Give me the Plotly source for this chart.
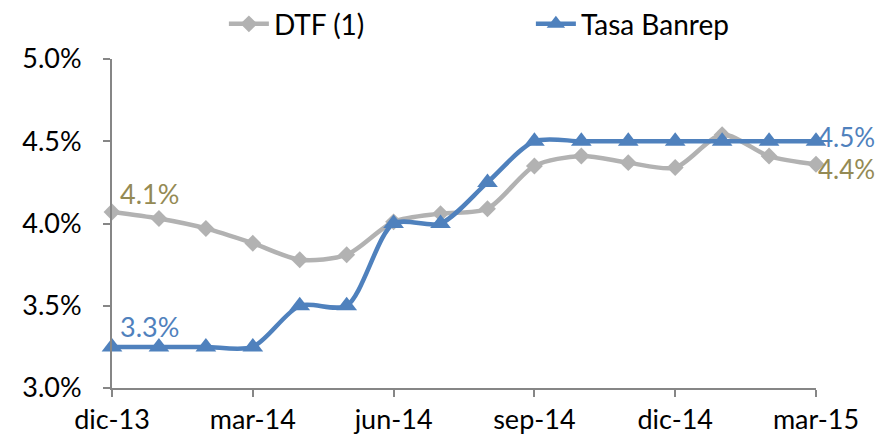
import plotly.graph_objects as go
from decimal import Decimal, ROUND_HALF_UP

months = ["dic-13", "ene-14", "feb-14", "mar-14", "abr-14", "may-14", "jun-14", "jul-14",
          "ago-14", "sep-14", "oct-14", "nov-14", "dic-14", "ene-15", "feb-15", "mar-15"]
dtf = [4.07, 4.03, 3.97, 3.88, 3.78, 3.81, 4.01, 4.06, 4.09, 4.35, 4.41, 4.37, 4.34, 4.54, 4.41, 4.36]
banrep = [3.25, 3.25, 3.25, 3.25, 3.50, 3.50, 4.00, 4.00, 4.25, 4.50, 4.50, 4.50, 4.50, 4.50, 4.50, 4.50]
tick_months = ["dic-13", "mar-14", "jun-14", "sep-14", "dic-14", "mar-15"]
y_ticks = [3.0, 3.5, 4.0, 4.5, 5.0]

FONT = "Lato, Noto Sans, sans-serif"
GRAY = "#B2B2B2"
BLUE = "#4F81BD"
OLIVE = "#948A54"
AXIS = "#868686"
FS = 27

def fmt(v):
    return str(Decimal(str(v)).quantize(Decimal("0.1"), rounding=ROUND_HALF_UP)) + "%"

fig = go.Figure()
fig.add_trace(go.Scatter(
    x=months, y=dtf, name="DTF (1)", mode="lines+markers",
    line=dict(color=GRAY, width=4.5, shape="spline", smoothing=0.8),
    marker=dict(symbol="diamond", size=13, color=GRAY),
))
fig.add_trace(go.Scatter(
    x=months, y=banrep, name="Tasa Banrep", mode="lines+markers",
    line=dict(color=BLUE, width=4.5, shape="spline", smoothing=0.8),
    marker=dict(symbol="triangle-up", size=18, color=BLUE),
))

# data labels at first and last points
for vals, col, ys_first, ys_last in ((dtf, OLIVE, 0, -5), (banrep, BLUE, 2, 4)):
    fig.add_annotation(x=months[0], y=vals[0], text=fmt(vals[0]), showarrow=False,
                       xanchor="left", yanchor="bottom", xshift=6, yshift=ys_first,
                       font=dict(color=col, size=FS, family=FONT))
    fig.add_annotation(x=months[-1], y=vals[-1], text=fmt(vals[-1]), showarrow=False,
                       xanchor="left", yanchor="middle", xshift=0, yshift=ys_last,
                       font=dict(color=col, size=26, family=FONT))

fig.update_layout(
    width=877, height=436,
    margin=dict(l=104, r=69, t=51, b=56, autoexpand=False),
    paper_bgcolor="white", plot_bgcolor="white",
    font=dict(family=FONT, size=FS, color="black"),
    showlegend=True,
    legend=dict(orientation="h", x=0.595, xanchor="center", y=1.03, yanchor="bottom",
                font=dict(size=28), itemwidth=40, entrywidth=252, traceorder="normal",
                tracegroupgap=0),
    xaxis=dict(type="category", range=[0, len(months) - 1], tickmode="array",
               tickvals=tick_months, ticktext=tick_months,
               showline=True, linecolor=AXIS, linewidth=2,
               ticks="outside", ticklen=7, tickcolor=AXIS, tickwidth=2,
               showgrid=False, zeroline=False, tickfont=dict(size=FS)),
    yaxis=dict(range=[3.0, 5.0], tickvals=y_ticks,
               ticktext=[f"{v:.1f}%" for v in y_ticks],
               showline=True, linecolor=AXIS, linewidth=2,
               ticks="outside", ticklen=7, tickcolor=AXIS, tickwidth=2,
               ticklabelstandoff=16,
               showgrid=False, zeroline=False, tickfont=dict(size=FS)),
)
fig.update_traces(cliponaxis=False)
fig.write_html("out.html")
